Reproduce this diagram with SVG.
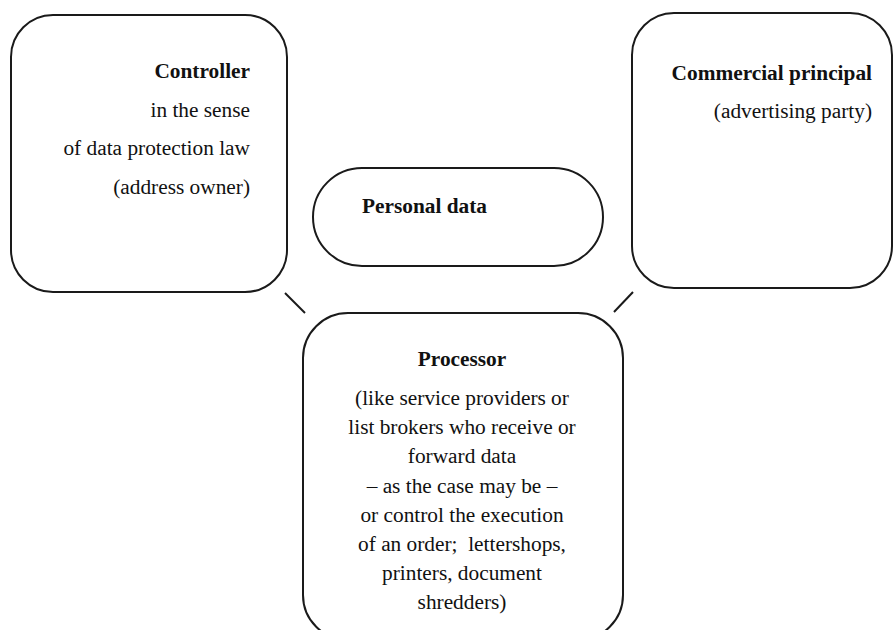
<svg xmlns="http://www.w3.org/2000/svg" width="894" height="630" viewBox="0 0 894 630">
<style>
.box{fill:#fff;stroke:#1a1a1a;stroke-width:2}
.conn{stroke:#1a1a1a;stroke-width:2;fill:none}
</style>
<rect width="894" height="630" fill="#fff"/>
<g id="connectors">
<line class="conn" x1="285" y1="293" x2="305" y2="313"/>
<line class="conn" x1="633" y1="292" x2="614" y2="312"/>
</g>
<g font-family="Liberation Serif" font-size="21.33" fill="#111">
<g id="controller">
<rect class="box" x="11" y="15" width="276" height="277" rx="42" ry="42"/>
<g text-anchor="end">
<text x="250" y="78" font-weight="bold">Controller</text>
<text x="250" y="117">in the sense</text>
<text x="250" y="155">of data protection law</text>
<text x="250" y="194">(address owner)</text>
</g>
</g>
<g id="commercial">
<rect class="box" x="632" y="13" width="260" height="275" rx="42" ry="42"/>
<g text-anchor="end">
<text x="872" y="80" font-weight="bold">Commercial principal</text>
<text x="872" y="118">(advertising party)</text>
</g>
</g>
<g id="personal-data">
<rect class="box" x="313" y="168" width="290" height="98" rx="49" ry="49"/>
<text x="362" y="213" font-weight="bold">Personal data</text>
</g>
<g id="processor">
<rect class="box" x="303" y="313" width="320" height="327" rx="45" ry="45"/>
<g text-anchor="middle">
<text x="462" y="366" font-weight="bold">Processor</text>
<text x="462" y="405">(like service providers or</text>
<text x="462" y="434">list brokers who receive or</text>
<text x="462" y="463">forward data</text>
<text x="462" y="493">– as the case may be –</text>
<text x="462" y="522">or control the execution</text>
<text x="462" y="551" xml:space="preserve">of an order;  lettershops,</text>
<text x="462" y="580">printers, document</text>
<text x="462" y="609">shredders)</text>
</g>
</g>
</g>
</svg>
